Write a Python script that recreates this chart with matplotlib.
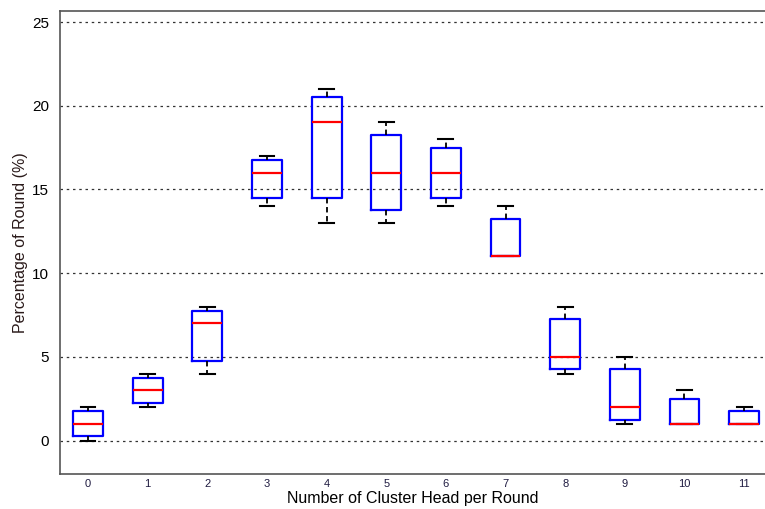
import matplotlib
matplotlib.use("Agg")
import matplotlib.pyplot as plt

plt.rcParams['font.family'] = ['Liberation Sans', 'DejaVu Sans']

groups = list(range(12))
whisker_low = [0, 2, 4, 14, 13, 13, 14, 11, 4, 1, 1, 1]
box_low = [0.25, 2.25, 4.75, 14.5, 14.5, 13.75, 14.5, 11, 4.25, 1.25, 1, 1]
medians = [1, 3, 7, 16, 19, 16, 16, 11, 5, 2, 1, 1]
box_high = [1.75, 3.75, 7.75, 16.75, 20.5, 18.25, 17.5, 13.25, 7.25, 4.25, 2.5, 1.75]
whisker_high = [2, 4, 8, 17, 21, 19, 18, 14, 8, 5, 3, 2]

stats = []
for g, wl, q1, med, q3, wh in zip(groups, whisker_low, box_low, medians, box_high, whisker_high):
    stats.append({'label': str(g), 'whislo': wl, 'q1': q1, 'med': med, 'q3': q3, 'whishi': wh, 'fliers': []})

fig = plt.figure(figsize=(7.65, 5.09), dpi=100)
ax = fig.add_axes([60 / 765, 1 - 474 / 509, 1 - 60 / 765, (474 - 11) / 509])

ax.bxp(stats, positions=groups, widths=0.5, showfliers=False,
       boxprops=dict(color='#0000ff', linewidth=1.6),
       medianprops=dict(color='#ff0000', linewidth=1.6),
       whiskerprops=dict(color='black', linewidth=1.3, linestyle=(0, (3, 2))),
       capprops=dict(color='black', linewidth=1.5),
       capwidths=0.25)

ax.set_xlim(-0.47, 11.35)
ax.set_ylim(-2, 25.66)
ax.set_yticks([0, 5, 10, 15, 20, 25])
ax.set_xticks(groups)
ax.set_xticklabels([str(g) for g in groups], fontsize=8, color='#1e1a40')
ax.tick_params(axis='y', labelsize=11, length=0, pad=8)
ax.tick_params(axis='x', length=0, pad=3.7)
ax.yaxis.grid(True, linestyle=(0, (2, 3)), color='#333333', linewidth=0.9)
ax.set_axisbelow(True)

for side in ['left', 'bottom', 'top']:
    ax.spines[side].set_color('#555555')
    ax.spines[side].set_linewidth(1.2)
ax.spines['right'].set_visible(False)

ax.set_xlabel('Number of Cluster Head per Round', fontsize=11.5, labelpad=1)
ax.set_ylabel('Percentage of Round (%)', fontsize=11.5, color='#2a1a1a', labelpad=3)

fig.savefig('out.png', dpi=100)
